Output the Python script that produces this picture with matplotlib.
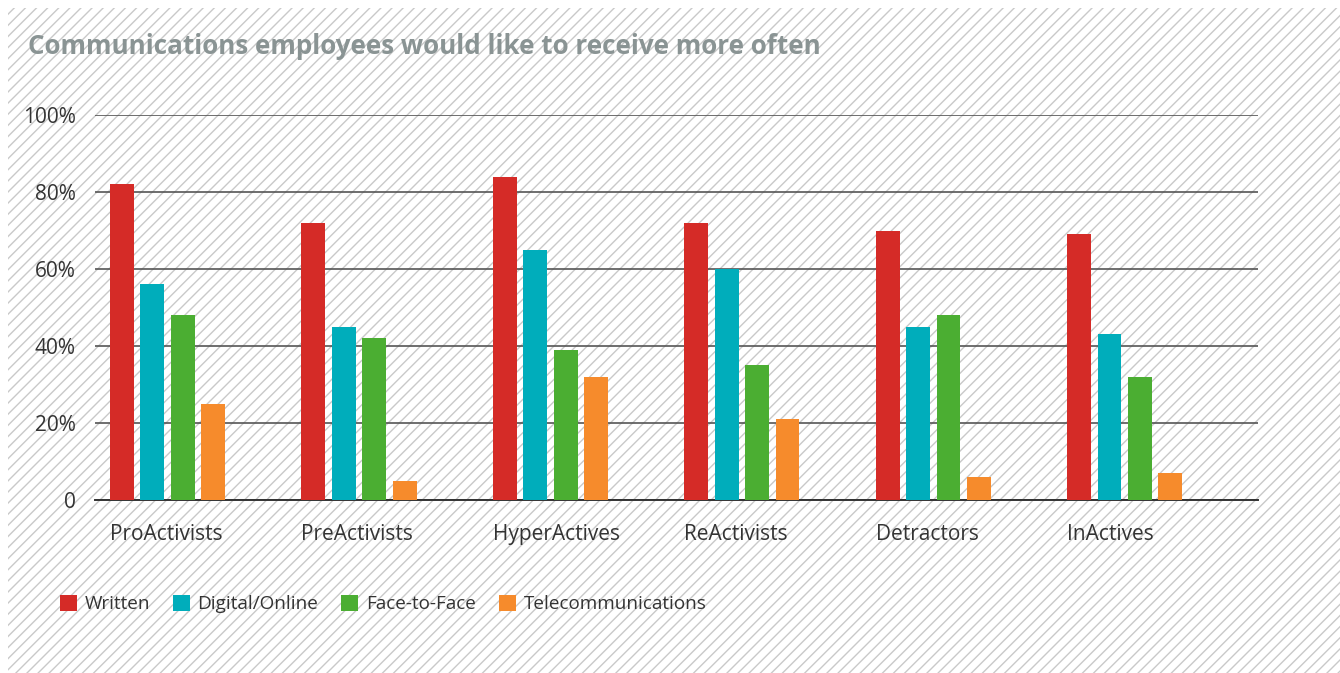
import matplotlib.pyplot as plt
import matplotlib.patches as mpatches
import numpy as np

groups = ["ProActivists", "PreActivists", "HyperActives", "ReActivists", "Detractors", "InActives"]
series_names = ["Written", "Digital/Online", "Face-to-Face", "Telecommunications"]
written = [82, 72, 84, 72, 70, 69]
digital = [56, 45, 65, 60, 45, 43]
face = [48, 42, 39, 35, 48, 32]
telecom = [25, 5, 32, 21, 6, 7]
colors = ["#D52B27", "#00ADBB", "#4BAE32", "#F68B2C"]
y_ticks = [0, 20, 40, 60, 80, 100]
y_labels = ["0", "20%", "40%", "60%", "80%", "100%"]

plt.rcParams["font.family"] = ["Open Sans", "DejaVu Sans"]

fig = plt.figure(figsize=(13.4, 6.73), dpi=100)

# hatched background
bg = mpatches.Rectangle((8 / 1340, 0), 1, 1 - 8 / 673, transform=fig.transFigure,
                        facecolor="white", edgecolor="#c9c9c9", hatch="///",
                        linewidth=0, zorder=-10)
fig.patches.append(bg)

ax = fig.add_axes([95 / 1340, 1 - 500 / 673, (1258 - 95) / 1340, (500 - 115) / 673])
ax.patch.set_visible(False)

x = np.arange(len(groups))
step = 0.159
width = 0.125
all_values = [written, digital, face, telecom]
for j, (vals, name) in enumerate(zip(all_values, series_names)):
    ax.bar(x + j * step, vals, width=width, color=colors[j], label=name, zorder=3)

ax.set_xlim(-0.141, 5.935)
ax.set_ylim(0, 100)
ax.set_yticks(y_ticks)
ax.set_yticklabels(y_labels)
ax.yaxis.grid(True, color="#555555", linewidth=1.2, zorder=1)
ax.set_axisbelow(True)
# labels start at the left edge of each group's first bar
ax.set_xticks(x - width / 2)
ax.set_xticklabels(groups, ha="left")
ax.tick_params(axis="both", length=0, labelsize=15, colors="#333333")
ax.tick_params(axis="x", pad=17)
ax.tick_params(axis="y", pad=14)
for side in ["top", "right", "left"]:
    ax.spines[side].set_visible(False)
ax.spines["bottom"].set_color("#333333")
ax.spines["bottom"].set_linewidth(1.4)

fig.text(28 / 1340, 1 - 47 / 673, "Communications employees would like to receive more often",
         fontsize=18.7, fontweight="bold", color="#8A9494", va="center")

ax.legend(loc="upper left", bbox_to_anchor=(-0.037, -0.227), ncol=4, frameon=False,
          fontsize=13.6, handlelength=0.9, handleheight=0.9, handletextpad=0.42,
          columnspacing=1.2, labelcolor="#333333", borderaxespad=0)

fig.savefig("out.png", dpi=100)
